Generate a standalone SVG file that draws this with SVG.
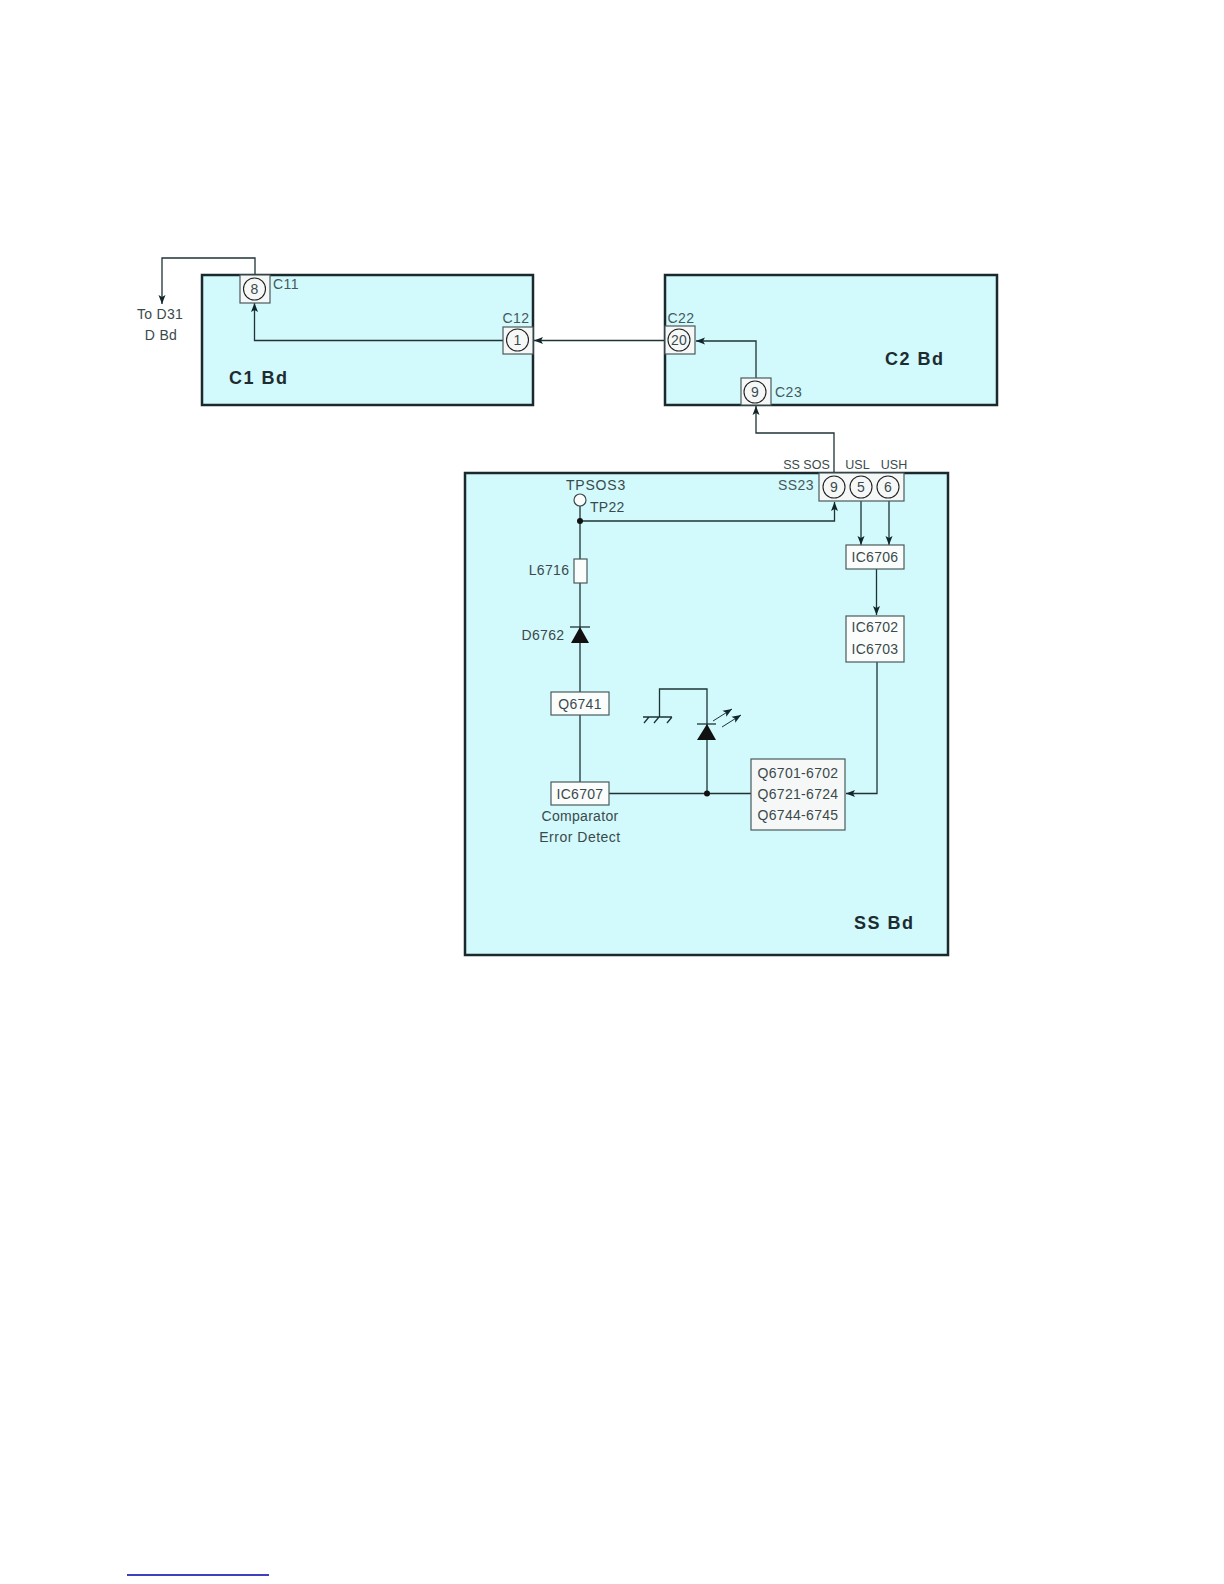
<svg xmlns="http://www.w3.org/2000/svg" width="1224" height="1584" viewBox="0 0 1224 1584">
<style>
text{font-family:"Liberation Sans",Arial,sans-serif;font-size:14px;letter-spacing:.3px;fill:#3a4a4c;text-anchor:middle}
.st{text-anchor:start}
.sm{font-size:12.500px;letter-spacing:0}
.c{font-size:14px;letter-spacing:.5px;fill:#46585c}
.b{font-size:18px;font-weight:bold;letter-spacing:1.500px;fill:#1c2c30;text-anchor:start}
.board{fill:#d2f9fb;stroke:#1a2a2c;stroke-width:2.500}
.box{fill:#f6f8f8;stroke:#4a5a5c;stroke-width:1.200}
.wbox{fill:#fbfdfd;stroke:#4a5a5c;stroke-width:1.200}
.pin{fill:none;stroke:#222;stroke-width:1.100}
.w{fill:none;stroke:#1f3336;stroke-width:1.300}
.a{marker-end:url(#arr)}
.k{fill:#111;stroke:none}
</style>
<defs>
<marker id="arr" markerUnits="userSpaceOnUse" markerWidth="10" markerHeight="8" refX="9" refY="4" orient="auto"><path d="M0 .5L9 4L0 7.500L2 4Z" fill="#11262a"/></marker>
</defs>
<rect width="1224" height="1584" fill="#fff"/>
<g id="board-c1"><rect class="board" x="202" y="275" width="331" height="130"/><text class="b" x="229" y="384">C1 Bd</text></g>
<g id="board-c2"><rect class="board" x="665" y="275" width="332" height="130"/><text class="b" x="885" y="365">C2 Bd</text></g>
<g id="board-ss"><rect class="board" x="465" y="473" width="483" height="482"/><text class="b" x="854" y="929">SS Bd</text></g>
<g id="connectors">
<path class="w a" d="M255 275V258H162V304"/>
<path class="w a" d="M503 340.500H254.500V303"/>
<path class="w a" d="M665 340.500H534"/>
<path class="w a" d="M756 378V341H696"/>
<path class="w a" d="M834 473V433H756V406"/>
<path class="w a" d="M580 521H834.500V502"/>
<path class="w a" d="M861 501V545"/>
<path class="w a" d="M889 501V545"/>
<path class="w a" d="M876.500 569V615"/>
<path class="w a" d="M877 662V793.500H846"/>
<path class="w" d="M580 506V559M580 583V692M580 715V782M609 793.500H751M707 793V689H659.500V717"/>
<path class="w" d="M643 717H672M649 717L644 723M659 717L654 723M672 717L667 723"/>
<path class="w a" d="M713 721L732 709" style="stroke-width:1"/>
<path class="w a" d="M722 727L741 715" style="stroke-width:1"/>
<circle class="k" cx="580" cy="521" r="3"/>
<circle class="k" cx="707" cy="793.500" r="3"/>
</g>
<g id="c11"><rect class="box" x="240" y="275" width="30" height="28"/><circle class="pin" cx="254.500" cy="289" r="11"/><text x="254.500" y="294">8</text><text class="st c" x="273" y="289">C11</text></g>
<g id="c12"><rect class="box" x="503" y="327" width="30" height="27"/><circle class="pin" cx="517.500" cy="340" r="11"/><text x="517.500" y="345">1</text><text class="c" x="516" y="323">C12</text></g>
<g id="c22"><rect class="box" x="665" y="326" width="30" height="28"/><circle class="pin" cx="679" cy="340" r="11"/><text x="679" y="345">20</text><text class="c" x="681" y="323">C22</text></g>
<g id="c23"><rect class="box" x="741" y="378" width="30" height="27"/><circle class="pin" cx="755" cy="392" r="11"/><text x="755" y="397">9</text><text class="st c" x="775" y="397">C23</text></g>
<g id="ss23"><rect class="box" x="819" y="473" width="85" height="28"/>
<circle class="pin" cx="834" cy="487" r="11"/><text x="834" y="492">9</text>
<circle class="pin" cx="861" cy="487" r="11"/><text x="861" y="492">5</text>
<circle class="pin" cx="888" cy="487" r="11"/><text x="888" y="492">6</text>
<text class="sm" x="806.500" y="469">SS SOS</text><text class="sm" x="857.500" y="469">USL</text><text class="sm" x="894" y="469">USH</text><text class="c" x="796" y="490">SS23</text></g>
<g id="to-d31"><text x="160" y="319">To D31</text><text x="161" y="340">D Bd</text></g>
<g id="tp22"><circle cx="580" cy="500" r="6" fill="#fbfdfd" stroke="#3a4a4c" stroke-width="1.200"/><text x="596" y="490" style="letter-spacing:.8px">TPSOS3</text><text class="st" x="590" y="512">TP22</text></g>
<g id="l6716"><rect class="wbox" x="574" y="559" width="13" height="24"/><text x="549" y="575">L6716</text></g>
<g id="d6762"><path class="k" d="M580 627L589 643H571Z"/><path class="w" d="M570 627H590"/><text x="543" y="640">D6762</text></g>
<g id="q6741"><rect class="wbox" x="551" y="692" width="58" height="23"/><text x="580" y="709">Q6741</text></g>
<g id="ic6707"><rect class="wbox" x="551" y="782" width="58" height="23"/><text x="580" y="799">IC6707</text><text x="580" y="821">Comparator</text><text x="580" y="842" style="letter-spacing:.5px">Error Detect</text></g>
<g id="led"><path class="k" d="M707 724L716 740H697Z"/><path class="w" d="M697 724H716"/></g>
<g id="ic6706"><rect class="wbox" x="846" y="545" width="58" height="24"/><text x="875" y="562">IC6706</text></g>
<g id="ic6702"><rect class="wbox" x="846" y="616" width="58" height="46"/><text x="875" y="632">IC6702</text><text x="875" y="654">IC6703</text></g>
<g id="q6701"><rect class="box" x="751" y="759" width="94" height="71"/><text x="798" y="778">Q6701-6702</text><text x="798" y="799">Q6721-6724</text><text x="798" y="820">Q6744-6745</text></g>
<path id="footnote-rule" d="M127 1575H269" stroke="#0000a8" stroke-width="1.600" fill="none"/>
</svg>
